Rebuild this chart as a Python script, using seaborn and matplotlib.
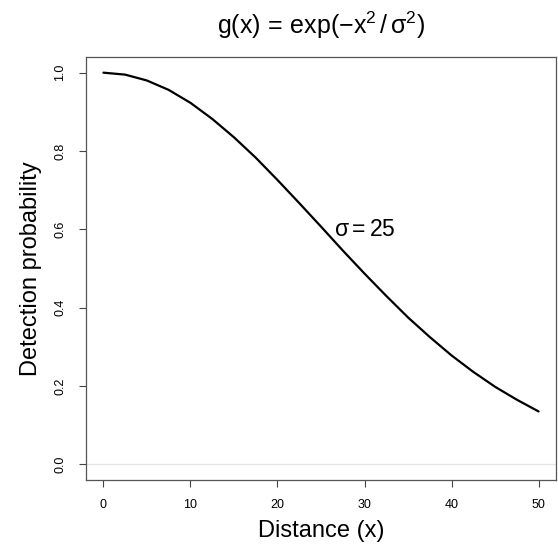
import numpy as np
import matplotlib
matplotlib.use('Agg')
import matplotlib.pyplot as plt
import seaborn as sns

# values (sigma = 25)
distance = [0, 2.5, 5, 7.5, 10, 12.5, 15, 17.5, 20, 22.5, 25,
            27.5, 30, 32.5, 35, 37.5, 40, 42.5, 45, 47.5, 50]
detection = [1.000, 0.995, 0.980, 0.956, 0.923, 0.882, 0.835, 0.783, 0.726, 0.667, 0.607,
             0.546, 0.487, 0.430, 0.375, 0.325, 0.278, 0.236, 0.198, 0.165, 0.135]
x_ticks = [0, 10, 20, 30, 40, 50]
y_ticks = [0.0, 0.2, 0.4, 0.6, 0.8, 1.0]

sns.set_style('ticks')
plt.rcParams['font.family'] = ['Liberation Sans', 'DejaVu Sans']
plt.rcParams['mathtext.fontset'] = 'custom'
plt.rcParams['mathtext.rm'] = 'Liberation Sans'
plt.rcParams['mathtext.it'] = 'Liberation Sans'
plt.rcParams['text.color'] = 'black'
plt.rcParams['axes.labelcolor'] = 'black'
plt.rcParams['xtick.color'] = 'black'
plt.rcParams['ytick.color'] = 'black'

fig = plt.figure(figsize=(5.58, 5.46), dpi=100)
ax = fig.add_axes([86 / 558, 1 - 480 / 546, 470 / 558, 423 / 546])

ax.axhline(0, color='#e6e6e6', lw=0.9, zorder=0)
sns.lineplot(x=distance, y=detection, ax=ax, color='black', lw=1.6)

ax.set_xlim(-2, 52)
ax.set_ylim(-0.04, 1.04)
ax.set_xticks(x_ticks)
ax.set_yticks(y_ticks)
ax.set_xticklabels([str(t) for t in x_ticks], fontsize=9)
ax.set_yticklabels(['%.1f' % t for t in y_ticks], fontsize=9, rotation=90, va='center')
ax.tick_params(length=5, width=0.8, color='#444444', pad=9)
for s in ax.spines.values():
    s.set_color('#555555')
    s.set_linewidth(0.9)

ax.set_xlabel('Distance (x)', fontsize=17, labelpad=6)
ax.set_ylabel('Detection probability', fontsize=17, labelpad=9)
ax.text(30, 0.6, r'$\mathrm{\sigma = 25}$', fontsize=16.5, ha='center', va='center')
fig.text(321 / 558, 1 - 25 / 546, r'$\mathrm{g(x)\/=\/exp(-x^2\,/\,\sigma^2)}$',
         fontsize=18, ha='center', va='center')

fig.savefig('out.png', dpi=100)
